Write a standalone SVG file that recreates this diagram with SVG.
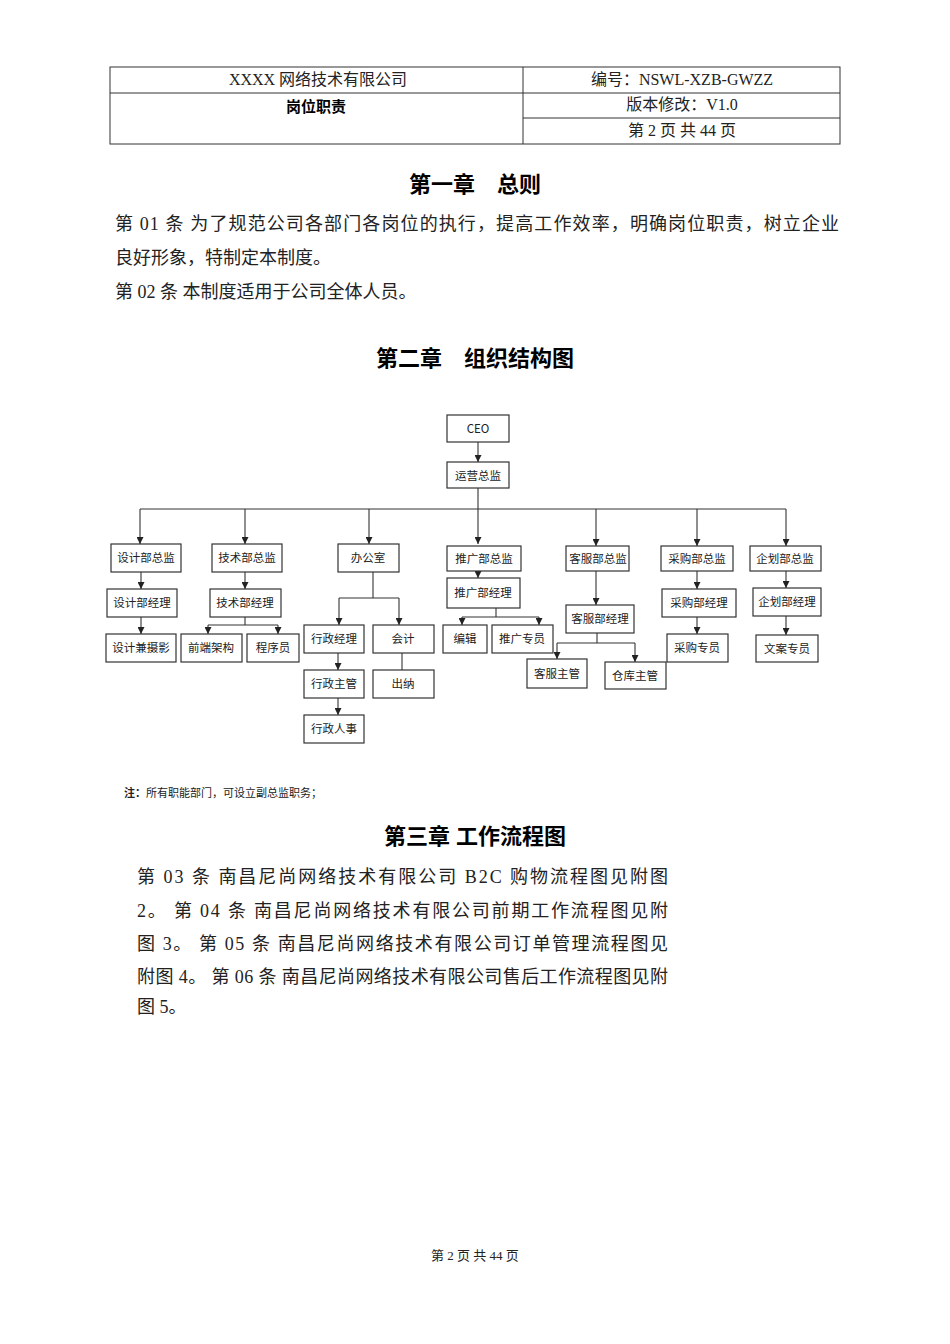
<svg xmlns="http://www.w3.org/2000/svg" width="950" height="1344" viewBox="0 0 950 1344">
<style>
.s{font-family:"Liberation Serif","Noto Sans CJK SC",serif;fill:#222}
.b{font-family:"Liberation Sans","Noto Sans CJK SC",sans-serif;font-weight:bold;fill:#000}
.n rect{fill:#fff;stroke:#333;stroke-width:1.2}
.n text{font-family:"Noto Sans CJK SC",sans-serif;font-size:11.5px;fill:#222;text-anchor:middle}
.c path{fill:none;stroke:#333;stroke-width:1.1}
.t{fill:none;stroke:#333;stroke-width:1}
</style>
<defs><marker id="a" viewBox="0 0 10 10" refX="10" refY="5" markerWidth="7" markerHeight="7" orient="auto" markerUnits="userSpaceOnUse"><path d="M0,0L10,5L0,10z" fill="#222"/></marker></defs>
<rect width="950" height="1344" fill="#fff"/>
<g id="header">
<rect class="t" x="110" y="67" width="730" height="77"/>
<path class="t" d="M523,67V144M110,93H840M523,118H840"/>
<text class="s" x="318" y="85" font-size="16" text-anchor="middle">XXXX 网络技术有限公司</text>
<text class="b" x="316" y="112" font-size="15" text-anchor="middle">岗位职责</text>
<text class="s" x="682" y="85" font-size="16" text-anchor="middle">编号：NSWL-XZB-GWZZ</text>
<text class="s" x="682" y="110" font-size="16" text-anchor="middle">版本修改：V1.0</text>
<text class="s" x="682" y="136" font-size="16" text-anchor="middle">第 2 页 共 44 页</text>
</g>
<text class="b" x="475" y="192" font-size="22" text-anchor="middle">第一章　总则</text>
<text class="s" x="115" y="230" font-size="18" textLength="724">第 01 条 为了规范公司各部门各岗位的执行，提高工作效率，明确岗位职责，树立企业</text>
<text class="s" x="115" y="264" font-size="18">良好形象，特制定本制度。</text>
<text class="s" x="115" y="298" font-size="18">第 02 条 本制度适用于公司全体人员。</text>
<text class="b" x="475" y="366" font-size="22" text-anchor="middle">第二章　组织结构图</text>
<g class="c">
<path d="M478,442V462" marker-end="url(#a)"/>
<path d="M478,488V544" marker-end="url(#a)"/>
<path d="M140,509H786"/>
<path d="M140,509V544" marker-end="url(#a)"/>
<path d="M245,509V544" marker-end="url(#a)"/>
<path d="M369,509V544" marker-end="url(#a)"/>
<path d="M596,509V546" marker-end="url(#a)"/>
<path d="M697,509V546" marker-end="url(#a)"/>
<path d="M786,509V546" marker-end="url(#a)"/>
<path d="M141,572V589" marker-end="url(#a)"/>
<path d="M141,617V634" marker-end="url(#a)"/>
<path d="M245,572V589" marker-end="url(#a)"/>
<path d="M245,617V625M208,625H278"/>
<path d="M208,625V634" marker-end="url(#a)"/>
<path d="M278,625V634" marker-end="url(#a)"/>
<path d="M373,572V598M339,598H399"/>
<path d="M339,598V625" marker-end="url(#a)"/>
<path d="M399,598V625" marker-end="url(#a)"/>
<path d="M338,653V670" marker-end="url(#a)"/>
<path d="M338,698V715" marker-end="url(#a)"/>
<path d="M402,653V670"/>
<path d="M478,571V578" marker-end="url(#a)"/>
<path d="M496,608V617M462,617H539"/>
<path d="M462,617V625" marker-end="url(#a)"/>
<path d="M539,617V625" marker-end="url(#a)"/>
<path d="M596,571V605" marker-end="url(#a)"/>
<path d="M597,633V643M557,643H635"/>
<path d="M557,643V659" marker-end="url(#a)"/>
<path d="M635,643V662" marker-end="url(#a)"/>
<path d="M697,571V589" marker-end="url(#a)"/>
<path d="M697,617V634" marker-end="url(#a)"/>
<path d="M786,571V588" marker-end="url(#a)"/>
<path d="M786,616V635" marker-end="url(#a)"/>
</g>
<g class="n">
<g id="ceo"><rect x="447" y="415" width="62" height="27"/><text x="478" y="433">CEO</text></g>
<g id="yunying"><rect x="447" y="462" width="62" height="26"/><text x="478" y="480">运营总监</text></g>
<g id="shejizj"><rect x="111" y="544" width="70" height="28"/><text x="146" y="562">设计部总监</text></g>
<g id="jishuzj"><rect x="212" y="544" width="70" height="28"/><text x="247" y="562">技术部总监</text></g>
<g id="bangongshi"><rect x="338" y="544" width="61" height="28"/><text x="368" y="562">办公室</text></g>
<g id="tuiguangzj"><rect x="447" y="546" width="74" height="25"/><text x="484" y="563">推广部总监</text></g>
<g id="kefuzj"><rect x="566" y="546" width="63" height="25"/><text x="598" y="563">客服部总监</text></g>
<g id="caigouzj"><rect x="661" y="546" width="72" height="25"/><text x="697" y="563">采购部总监</text></g>
<g id="qihuazj"><rect x="750" y="546" width="71" height="25"/><text x="785" y="563">企划部总监</text></g>
<g id="shejijl"><rect x="107" y="589" width="70" height="28"/><text x="142" y="607">设计部经理</text></g>
<g id="jishujl"><rect x="210" y="589" width="71" height="28"/><text x="245" y="607">技术部经理</text></g>
<g id="tuiguangjl"><rect x="447" y="578" width="73" height="30"/><text x="483" y="597">推广部经理</text></g>
<g id="kefujl"><rect x="566" y="605" width="68" height="28"/><text x="600" y="623">客服部经理</text></g>
<g id="caigoujl"><rect x="662" y="589" width="74" height="28"/><text x="699" y="607">采购部经理</text></g>
<g id="qihuajl"><rect x="753" y="588" width="68" height="28"/><text x="787" y="606">企划部经理</text></g>
<g id="shejisy"><rect x="106" y="634" width="70" height="28"/><text x="141" y="652">设计兼摄影</text></g>
<g id="qianduan"><rect x="181" y="634" width="61" height="28"/><text x="211" y="652">前端架构</text></g>
<g id="chengxu"><rect x="247" y="634" width="52" height="28"/><text x="273" y="652">程序员</text></g>
<g id="xingzhengjl"><rect x="304" y="625" width="60" height="28"/><text x="334" y="643">行政经理</text></g>
<g id="kuaiji"><rect x="373" y="625" width="61" height="28"/><text x="403" y="643">会计</text></g>
<g id="xingzhengzg"><rect x="304" y="670" width="60" height="28"/><text x="334" y="688">行政主管</text></g>
<g id="chuna"><rect x="373" y="670" width="61" height="28"/><text x="403" y="688">出纳</text></g>
<g id="xingzhengrs"><rect x="304" y="715" width="60" height="28"/><text x="334" y="733">行政人事</text></g>
<g id="bianji"><rect x="443" y="625" width="44" height="28"/><text x="465" y="643">编辑</text></g>
<g id="tuiguangzy"><rect x="492" y="625" width="61" height="28"/><text x="522" y="643">推广专员</text></g>
<g id="kefuzg"><rect x="527" y="659" width="60" height="29"/><text x="557" y="678">客服主管</text></g>
<g id="cangku"><rect x="605" y="662" width="61" height="27"/><text x="635" y="680">仓库主管</text></g>
<g id="caigouzy"><rect x="667" y="634" width="61" height="28"/><text x="697" y="652">采购专员</text></g>
<g id="wenan"><rect x="756" y="635" width="62" height="27"/><text x="787" y="653">文案专员</text></g>
</g>
<text x="124" y="797" font-size="11" font-family="Noto Sans CJK SC,sans-serif" fill="#222"><tspan font-weight="bold">注：</tspan>所有职能部门，可设立副总监职务；</text>
<text class="b" x="475" y="844" font-size="22" text-anchor="middle">第三章  工作流程图</text>
<g class="s" font-size="18">
<text x="137" y="883" textLength="531">第 03 条  南昌尼尚网络技术有限公司  B2C  购物流程图见附图</text>
<text x="137" y="917" textLength="531">2。  第 04 条  南昌尼尚网络技术有限公司前期工作流程图见附</text>
<text x="137" y="950" textLength="531">图  3。  第 05 条  南昌尼尚网络技术有限公司订单管理流程图见</text>
<text x="137" y="983" textLength="531">附图  4。  第 06 条    南昌尼尚网络技术有限公司售后工作流程图见附</text>
<text x="137" y="1013">图  5。</text>
</g>
<text class="s" x="475" y="1260" font-size="13" text-anchor="middle">第 2 页 共 44 页</text>
</svg>
